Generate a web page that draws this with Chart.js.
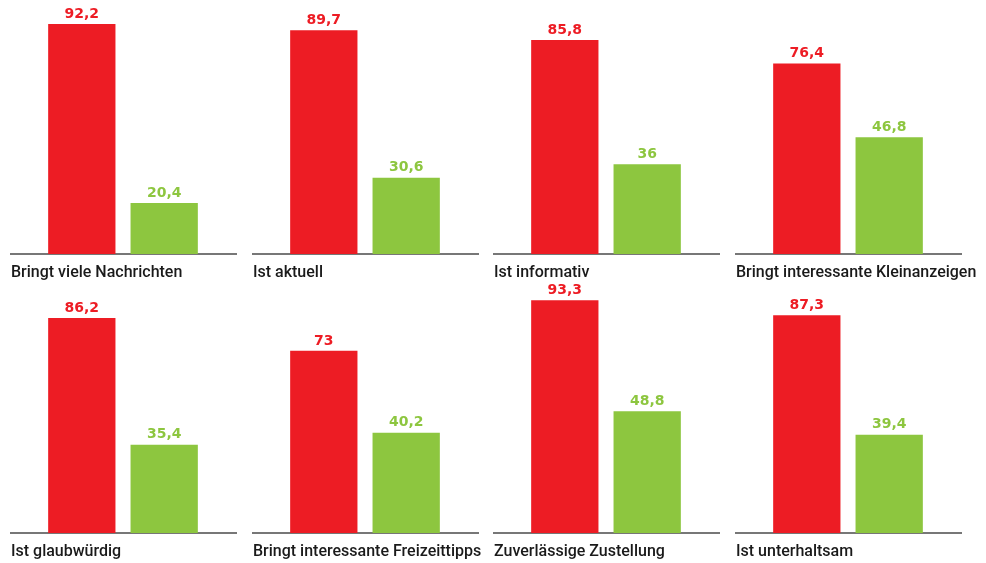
<!DOCTYPE html>
<html>
<head>
<meta charset="utf-8">
<script src="https://cdn.jsdelivr.net/npm/chart.js@4.4.1/dist/chart.umd.min.js"></script>
<style>
  html, body { margin: 0; padding: 0; background: #fff; overflow: hidden; }
  body { width: 986px; height: 563px; position: relative; }
  .panel { position: absolute; }
</style>
</head>
<body>
<script>
// Merkmale und Werte (rot / grün)
const categories = [
  "Bringt viele Nachrichten", "Ist aktuell", "Ist informativ", "Bringt interessante Kleinanzeigen",
  "Ist glaubwürdig", "Bringt interessante Freizeittipps", "Zuverlässige Zustellung", "Ist unterhaltsam"
];
const redValues = [92.2, 89.7, 85.8, 76.4, 86.2, 73, 93.3, 87.3];
const greenValues = [20.4, 30.6, 36, 46.8, 35.4, 40.2, 48.8, 39.4];

const RED = '#ed1c24';
const GREEN = '#8dc63f';
const panelLeft = [10, 252, 493, 735];
const panelTop = [0, 279];
const W = 226, EXTRA = 40, H = 290;

const fmt = v => String(v).replace('.', ',');

// Werte über den Balken + Titel unter der Grundlinie
const labelPlugin = {
  id: 'labels',
  afterDatasetsDraw(chart) {
    const ctx = chart.ctx;
    ctx.save();
    ctx.font = 'bold 14px "DejaVu Sans"';
    ctx.textAlign = 'center';
    ctx.textBaseline = 'bottom';
    chart.data.datasets.forEach((ds, i) => {
      const bar = chart.getDatasetMeta(i).data[0];
      ctx.fillStyle = ds.backgroundColor;
      ctx.fillText(fmt(ds.data[0]), bar.x, bar.y - 3);
    });
    ctx.font = '500 16px Roboto';
    ctx.fillStyle = '#1a1a1a';
    ctx.textAlign = 'left';
    ctx.textBaseline = 'middle';
    ctx.fillText(chart.options.plugins.panelTitle, chart.chartArea.left + 1, chart.chartArea.bottom + 19);
    ctx.restore();
  }
};

categories.forEach((cat, i) => {
  const canvas = document.createElement('canvas');
  canvas.className = 'panel';
  canvas.width = W + EXTRA;
  canvas.height = H;
  canvas.style.left = panelLeft[i % 4] + 'px';
  canvas.style.top = panelTop[Math.floor(i / 4)] + 'px';
  document.body.appendChild(canvas);

  new Chart(canvas.getContext('2d'), {
    type: 'bar',
    data: {
      labels: [cat],
      datasets: [
        { data: [redValues[i]], backgroundColor: RED, barPercentage: 0.817, categoryPercentage: 0.729 },
        { data: [greenValues[i]], backgroundColor: GREEN, barPercentage: 0.817, categoryPercentage: 0.729 }
      ]
    },
    options: {
      responsive: false,
      devicePixelRatio: 1,
      animation: false,
      layout: { padding: { top: 4.5, bottom: 28, left: 0, right: EXTRA } },
      plugins: { legend: { display: false }, tooltip: { enabled: false }, panelTitle: cat },
      scales: {
        x: {
          grid: { display: false },
          ticks: { display: false },
          border: { display: true, color: '#777', width: 2 }
        },
        y: { display: false, min: 0, max: 100 }
      }
    },
    plugins: [labelPlugin]
  });
});
</script>
</body>
</html>
